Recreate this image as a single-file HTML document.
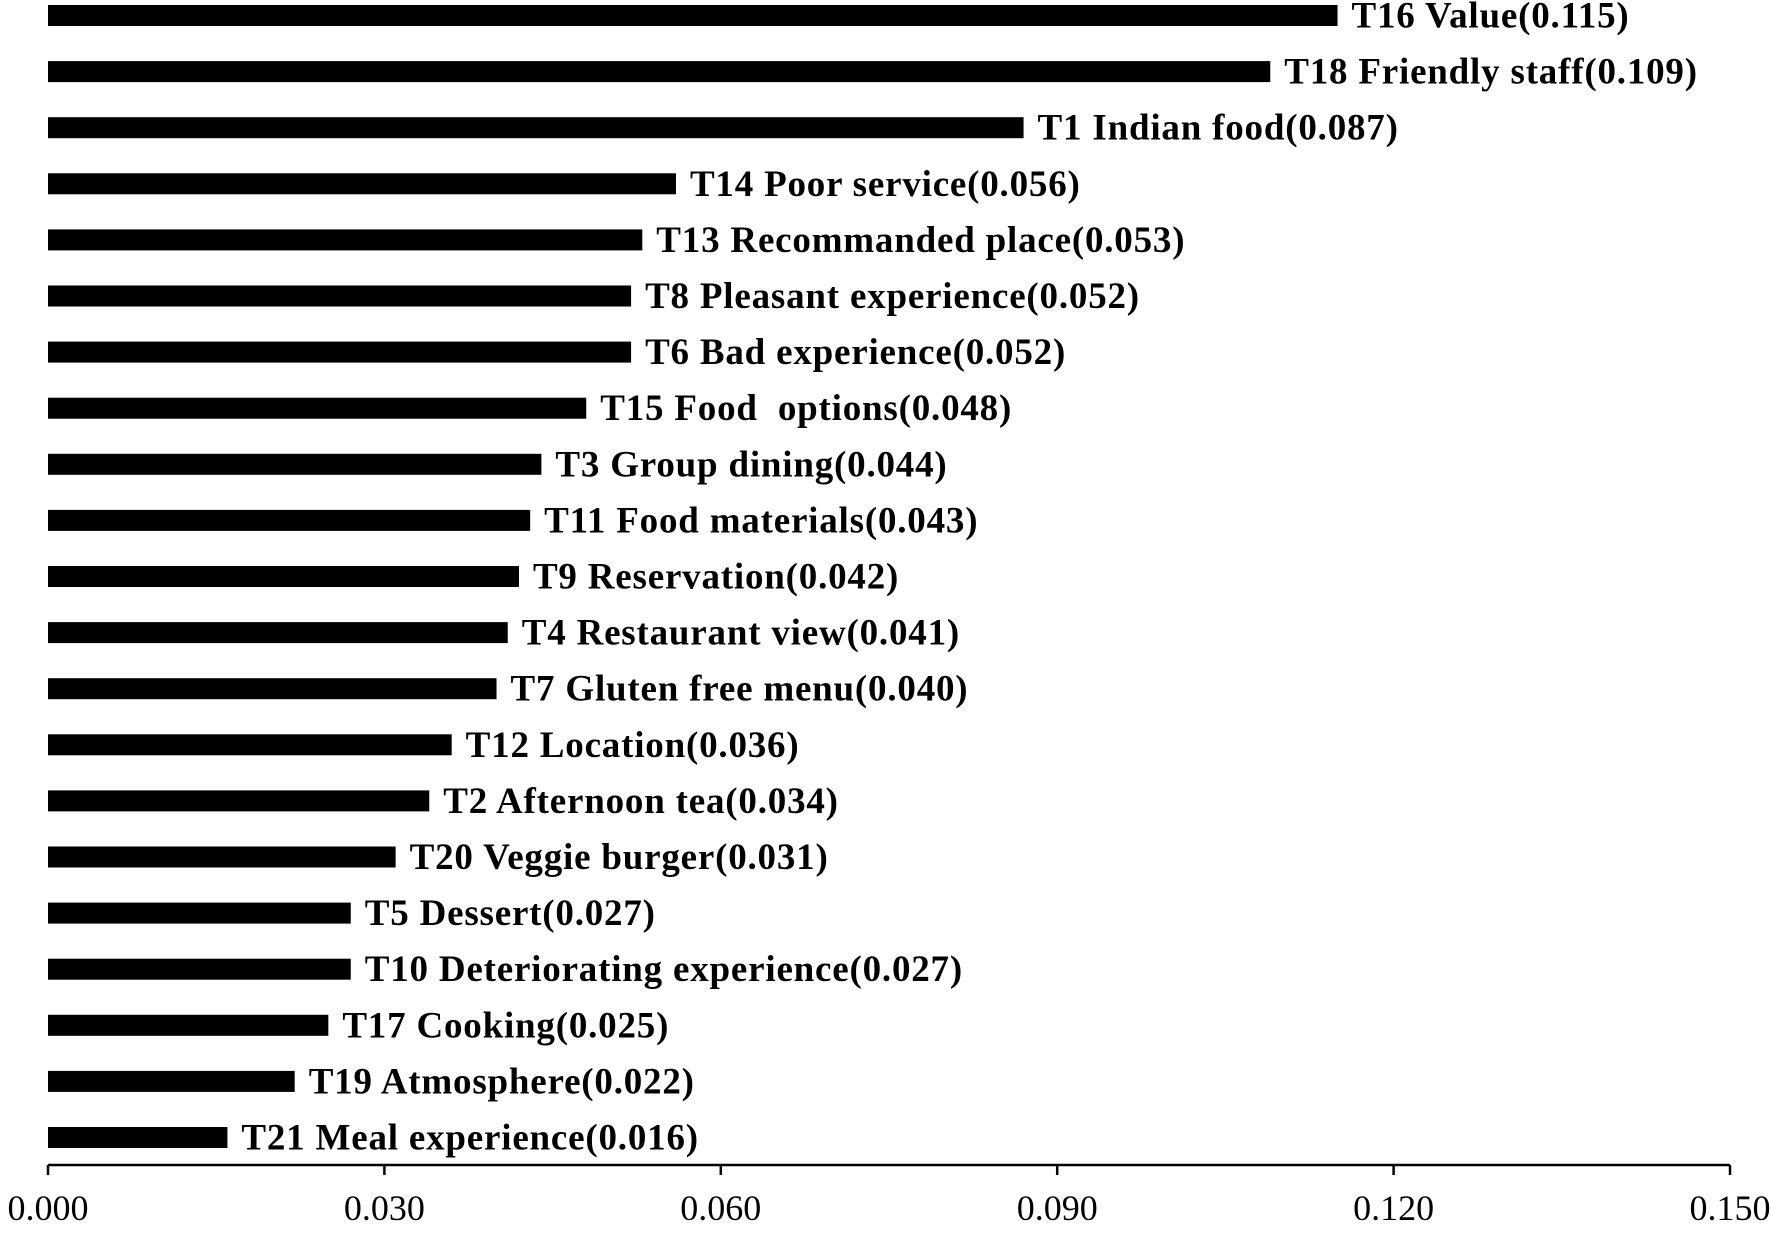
<!DOCTYPE html>
<html><head><meta charset="utf-8"><style>
html,body{margin:0;padding:0;background:#fff;}
svg{display:block;}
text{white-space:pre;}
</style></head><body>
<svg id="chart" width="1772" height="1233" viewBox="0 0 1772 1233" xmlns="http://www.w3.org/2000/svg">
<g id="bars"></g>
<g id="labels"></g>
<g id="axis"></g>
</svg>
<script>
const categories = ["T16 Value","T18 Friendly staff","T1 Indian food","T14 Poor service","T13 Recommanded place","T8 Pleasant experience","T6 Bad experience","T15 Food  options","T3 Group dining","T11 Food materials","T9 Reservation","T4 Restaurant view","T7 Gluten free menu","T12 Location","T2 Afternoon tea","T20 Veggie burger","T5 Dessert","T10 Deteriorating experience","T17 Cooking","T19 Atmosphere","T21 Meal experience"];
const values = [0.115,0.109,0.087,0.056,0.053,0.052,0.052,0.048,0.044,0.043,0.042,0.041,0.040,0.036,0.034,0.031,0.027,0.027,0.025,0.022,0.016];
const valueLabels = ["0.115","0.109","0.087","0.056","0.053","0.052","0.052","0.048","0.044","0.043","0.042","0.041","0.040","0.036","0.034","0.031","0.027","0.027","0.025","0.022","0.016"];
const ticks = [0,0.03,0.06,0.09,0.12,0.15];
const tickLabels = ["0.000","0.030","0.060","0.090","0.120","0.150"];

const NS="http://www.w3.org/2000/svg";
const x0=48,x1=1730,vmax=0.15;
const xs=v=>x0+(v/vmax)*(x1-x0);
const yc=i=>15.5+i*56.1;
const barH=21, axisY=1165;
function mk(t,a){const e=document.createElementNS(NS,t);for(const k in a)e.setAttribute(k,a[k]);return e;}
const gb=document.getElementById('bars'),gl=document.getElementById('labels'),ga=document.getElementById('axis');
values.forEach((v,i)=>{
  const r=mk('rect',{x:x0,y:yc(i)-barH/2,width:xs(v)-x0,height:barH,fill:'#000'});
  
  
  gb.appendChild(r);
  const t=mk('text',{x:xs(v)+14,y:yc(i)+12,'font-family':'"Liberation Serif",serif','font-size':'37','font-weight':'bold','letter-spacing':'0.8',fill:'#000'});
  t.textContent=categories[i]+'('+valueLabels[i]+')';
  
  
  gl.appendChild(t);
});
const line=mk('line',{x1:x0,y1:axisY,x2:x1,y2:axisY,stroke:'#000','stroke-width':2.5});


ga.appendChild(line);
ticks.forEach((v,i)=>{
  const tk=mk('line',{x1:xs(v),y1:axisY,x2:xs(v),y2:axisY+10,stroke:'#000','stroke-width':2.5});
  
  
  ga.appendChild(tk);
  const t=mk('text',{x:xs(v),y:axisY+55,'text-anchor':'middle','font-family':'"Liberation Serif",serif','font-size':'36',fill:'#000'});
  t.textContent=tickLabels[i];
  
  
  ga.appendChild(t);
});
</script>
</body></html>
